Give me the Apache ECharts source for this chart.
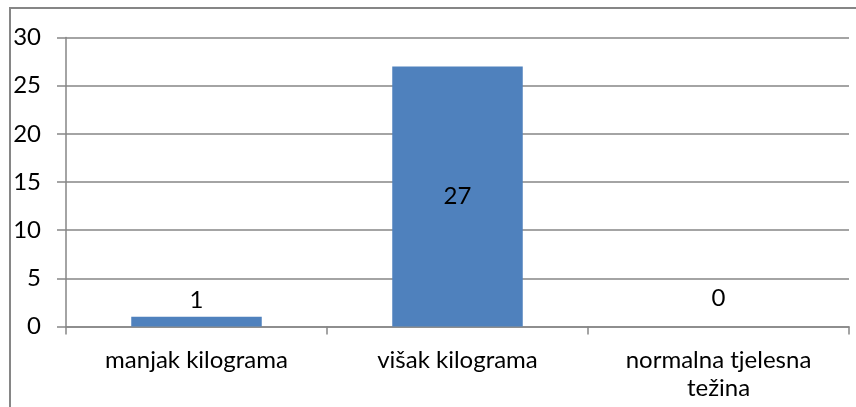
<!DOCTYPE html>
<html>
<head>
<meta charset="utf-8">
<script src="https://cdn.jsdelivr.net/npm/echarts@6/dist/echarts.min.js"></script>
<style>
  html, body { margin: 0; padding: 0; background: #fff; }
  #chart { width: 856px; height: 407px; }
</style>
</head>
<body>
<div id="chart"></div>
<script>
// kategorije i vrijednosti
const categories = ['manjak kilograma', 'višak kilograma', 'normalna tjelesna\ntežina'];
const values = [1, 27, 0];
const yTicks = { min: 0, max: 30, interval: 5 };

const gray = '#868686';
const font = 'Lato, "Open Sans", sans-serif';

// pozicija oznaka kao u originalu
const labelPos = [
  { position: 'top', distance: 5 },
  { position: 'inside' },
  { position: 'top', distance: 16 }
];

const chart = echarts.init(document.getElementById('chart'));

const option = {
  animation: false,
  backgroundColor: '#fff',
  graphic: [{
    type: 'rect',
    shape: { x: 10, y: 8, width: 900, height: 500 },
    style: { fill: 'none', stroke: gray, lineWidth: 2 },
    silent: true
  }],
  grid: { left: 66, right: 7, top: 37.5, bottom: 80.5 },
  xAxis: {
    type: 'category',
    data: categories,
    axisLine: { lineStyle: { color: gray, width: 1.5 } },
    axisTick: { show: true, length: 8, lineStyle: { color: gray, width: 1.5 } },
    axisLabel: {
      color: '#000',
      fontFamily: font,
      fontSize: 24,
      margin: 20,
      lineHeight: 28,
      interval: 0
    }
  },
  yAxis: {
    type: 'value',
    min: yTicks.min,
    max: yTicks.max,
    interval: yTicks.interval,
    axisLine: { show: true, lineStyle: { color: gray, width: 1.5 } },
    axisTick: { show: true, length: 9, lineStyle: { color: gray, width: 1.5 } },
    splitLine: { lineStyle: { color: gray, width: 1.5 } },
    axisLabel: {
      color: '#000',
      fontFamily: font,
      fontSize: 24,
      margin: 25
    }
  },
  series: [{
    type: 'bar',
    barWidth: '50%',
    data: values.map((v, i) => ({
      value: v,
      label: labelPos[i]
    })),
    itemStyle: { color: '#4F81BD' },
    label: {
      show: true,
      color: '#000',
      fontFamily: font,
      fontSize: 24
    }
  }]
};

chart.setOption(option);
</script>
</body>
</html>
